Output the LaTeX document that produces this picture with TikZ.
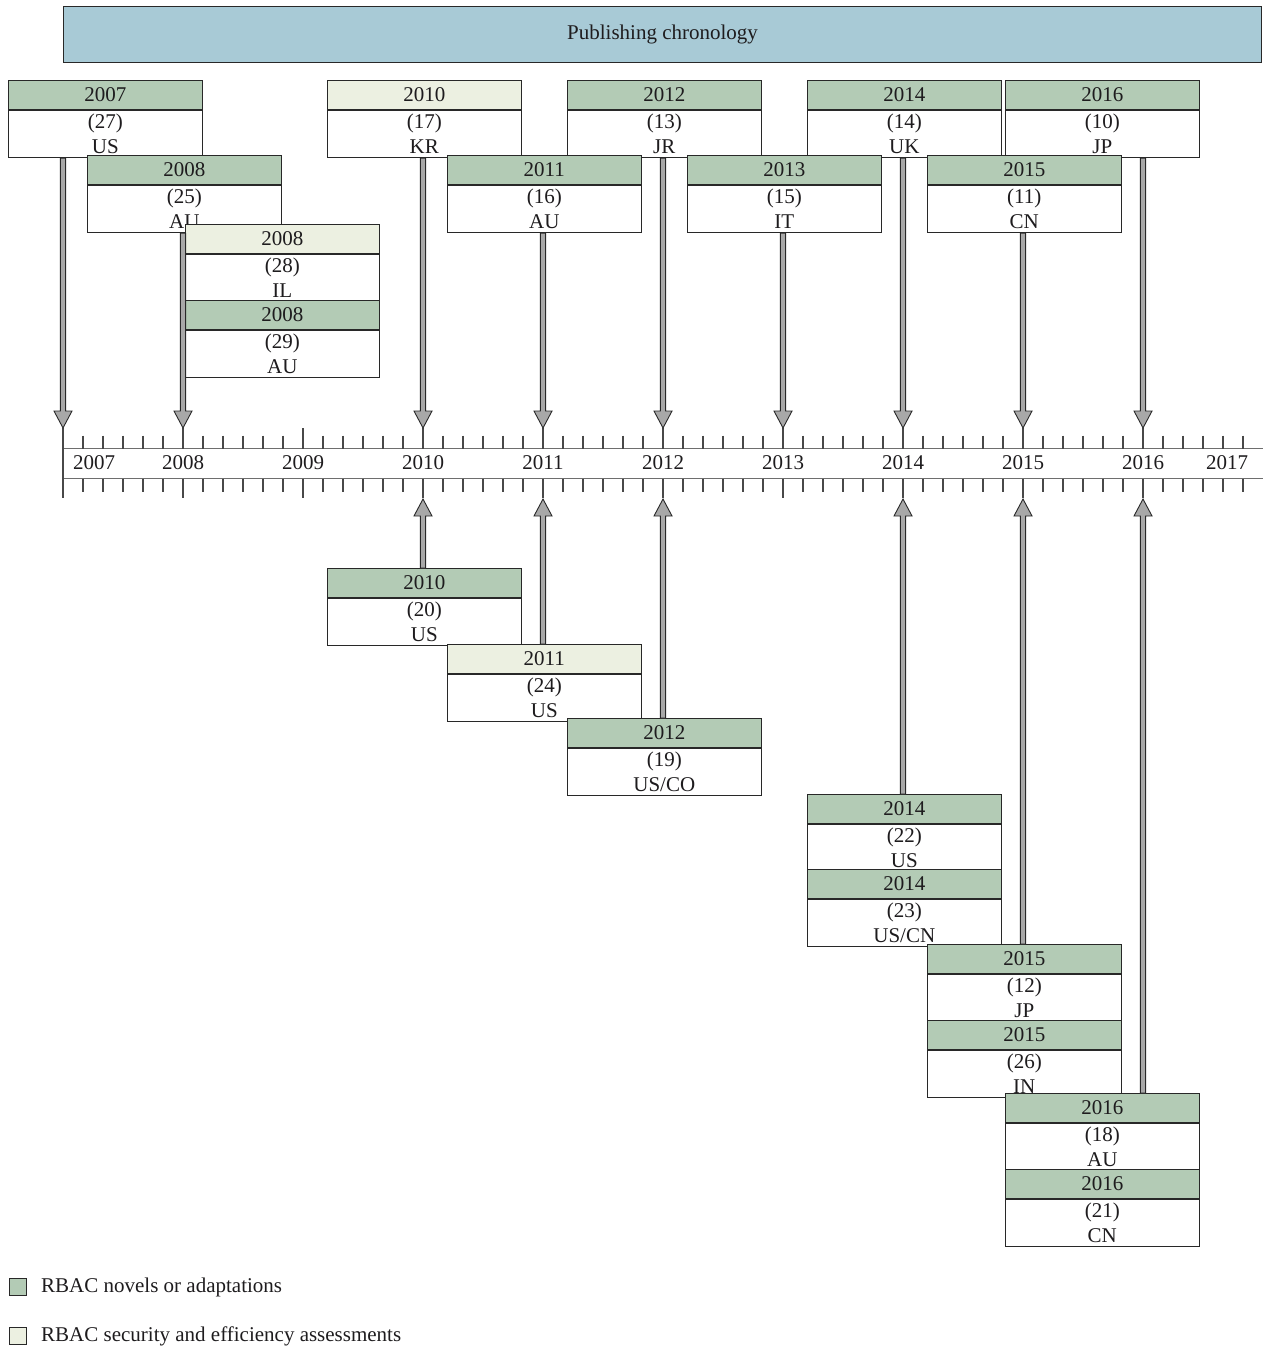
\documentclass[tikz,border=0pt]{standalone}
\usepackage{fontspec}
\setmainfont{Liberation Serif}
\usetikzlibrary{calc}
\definecolor{hdrgreen}{RGB}{179,203,181}
\definecolor{hdrlight}{RGB}{236,240,225}
\definecolor{titleblue}{RGB}{168,202,214}
\definecolor{arrgray}{RGB}{168,168,168}
\definecolor{edgec}{RGB}{40,40,40}
\definecolor{axisgray}{RGB}{110,110,110}
\definecolor{txt}{RGB}{30,28,30}
\newcommand\pubbox[7]{%
  \node[hdrbox, fill=#7] (#1h) at (#2,#3) {#4};
  \node[bodybox] (#1) at (#1h.south west) {(#5)\\#6};}
\newcommand\arrdown[2]{%
  \filldraw[arrsty] let \p1=(#1), \p2=(#2) in
    (\x2-2.6pt,\y1) -- (\x2-2.6pt,\y2+17pt) -- (\x2-9pt,\y2+17pt) -- (\x2,\y2)
    -- (\x2+9pt,\y2+17pt) -- (\x2+2.6pt,\y2+17pt) -- (\x2+2.6pt,\y1) -- cycle;}
\newcommand\arrup[2]{%
  \filldraw[arrsty] let \p1=(#1), \p2=(#2) in
    (\x2-2.6pt,\y1) -- (\x2-2.6pt,\y2-17pt) -- (\x2-9pt,\y2-17pt) -- (\x2,\y2)
    -- (\x2+9pt,\y2-17pt) -- (\x2+2.6pt,\y2-17pt) -- (\x2+2.6pt,\y1) -- cycle;}
\begin{document}
\begin{tikzpicture}[x=1pt,y=-1pt,
  font=\fontsize{21}{25}\selectfont, text=txt,
  hdrbox/.style={draw=edgec, line width=1.1pt, minimum width=193.5pt, minimum height=29pt,
    inner sep=0pt, anchor=north west},
  bodybox/.style={draw=edgec, fill=white, line width=1.1pt, minimum width=193.5pt,
    minimum height=47pt, inner sep=0pt, anchor=north west, align=center},
  arrsty/.style={draw=edgec, fill=arrgray, line width=0.9pt, line join=miter},
  tick/.style={draw=edgec!85, line width=1.1pt},
  band/.style={draw=axisgray, line width=1pt},
  yearlab/.style={inner sep=0pt},
  legbox/.style={draw=edgec, line width=1pt, minimum size=17pt, inner sep=0pt},
  legtext/.style={anchor=west, inner sep=0pt}]
\useasboundingbox (0,0) rectangle (1263,1346);

% title
\node[draw=edgec, line width=1.1pt, fill=titleblue, minimum width=1198pt, minimum height=56pt,
  inner sep=0pt, anchor=north west] (title) at (63,6) {Publishing chronology};

% axis
\draw[band] (63,448.5) -- (1263,448.5);
\draw[band] (63,478.5) -- (1263,478.5);
\draw[tick] (63,428) -- (63,498);
\foreach \i in {1,...,59}{
  \pgfmathtruncatemacro\m{mod(\i,6)}
  \pgfmathsetmacro\xx{63+20*\i}
  \ifnum\m=0
    \draw[tick] (\xx,428) -- (\xx,448.5);
    \draw[tick] (\xx,478.5) -- (\xx,498);
  \else
    \draw[tick] (\xx,435.5) -- (\xx,448.5);
    \draw[tick] (\xx,478.5) -- (\xx,492);
  \fi}
\node[yearlab] (L2007) at (94,463) {2007};
\node[yearlab] (L2008) at (183,463) {2008};
\node[yearlab] (L2009) at (303,463) {2009};
\node[yearlab] (L2010) at (423,463) {2010};
\node[yearlab] (L2011) at (543,463) {2011};
\node[yearlab] (L2012) at (663,463) {2012};
\node[yearlab] (L2013) at (783,463) {2013};
\node[yearlab] (L2014) at (903,463) {2014};
\node[yearlab] (L2015) at (1023,463) {2015};
\node[yearlab] (L2016) at (1143,463) {2016};
\node[yearlab] (L2017) at (1227,463) {2017};

% arrow tip coordinates
\foreach \yr/\xx in {2007/63,2008/183,2010/423,2011/543,2012/663,2013/783,2014/903,2015/1023,2016/1143}{
  \coordinate (T\yr) at (\xx,428);
  \coordinate (B\yr) at (\xx,499);}

% top boxes
\pubbox{k07}{8}{80}{2007}{27}{US}{hdrgreen}
\pubbox{k10}{327}{80}{2010}{17}{KR}{hdrlight}
\pubbox{k12}{567}{80}{2012}{13}{JR}{hdrgreen}
\pubbox{k14}{807}{80}{2014}{14}{UK}{hdrgreen}
\pubbox{k16}{1005}{80}{2016}{10}{JP}{hdrgreen}
\pubbox{k08}{87}{155}{2008}{25}{AU}{hdrgreen}
\pubbox{k11}{447}{155}{2011}{16}{AU}{hdrgreen}
\pubbox{k13}{687}{155}{2013}{15}{IT}{hdrgreen}
\pubbox{k15}{927}{155}{2015}{11}{CN}{hdrgreen}
\pubbox{k08b}{185}{224}{2008}{28}{IL}{hdrlight}
\pubbox{k08c}{185}{300}{2008}{29}{AU}{hdrgreen}

% bottom boxes
\pubbox{m10}{327}{568}{2010}{20}{US}{hdrgreen}
\pubbox{m11}{447}{644}{2011}{24}{US}{hdrlight}
\pubbox{m12}{567}{718}{2012}{19}{US/CO}{hdrgreen}
\pubbox{m14}{807}{794}{2014}{22}{US}{hdrgreen}
\pubbox{m14b}{807}{869}{2014}{23}{US/CN}{hdrgreen}
\pubbox{m15}{927}{944}{2015}{12}{JP}{hdrgreen}
\pubbox{m15b}{927}{1020}{2015}{26}{IN}{hdrgreen}
\pubbox{m16}{1005}{1093}{2016}{18}{AU}{hdrgreen}
\pubbox{m16b}{1005}{1169}{2016}{21}{CN}{hdrgreen}

% arrows down
\arrdown{T2007 |- k07.south}{T2007}
\arrdown{T2008 |- k08.south}{T2008}
\arrdown{T2010 |- k10.south}{T2010}
\arrdown{T2011 |- k11.south}{T2011}
\arrdown{T2012 |- k12.south}{T2012}
\arrdown{T2013 |- k13.south}{T2013}
\arrdown{T2014 |- k14.south}{T2014}
\arrdown{T2015 |- k15.south}{T2015}
\arrdown{T2016 |- k16.south}{T2016}
% arrows up
\arrup{B2010 |- m10h.north}{B2010}
\arrup{B2011 |- m11h.north}{B2011}
\arrup{B2012 |- m12h.north}{B2012}
\arrup{B2014 |- m14h.north}{B2014}
\arrup{B2015 |- m15h.north}{B2015}
\arrup{B2016 |- m16h.north}{B2016}

% legend
\node[legbox, fill=hdrgreen] (lg1) at (18,1287) {};
\node[legtext] (lt1) at (41,1287) {RBAC novels or adaptations};
\node[legbox, fill=hdrlight] (lg2) at (18,1336) {};
\node[legtext] (lt2) at (41,1336) {RBAC security and efficiency assessments};
\end{tikzpicture}
\end{document}
